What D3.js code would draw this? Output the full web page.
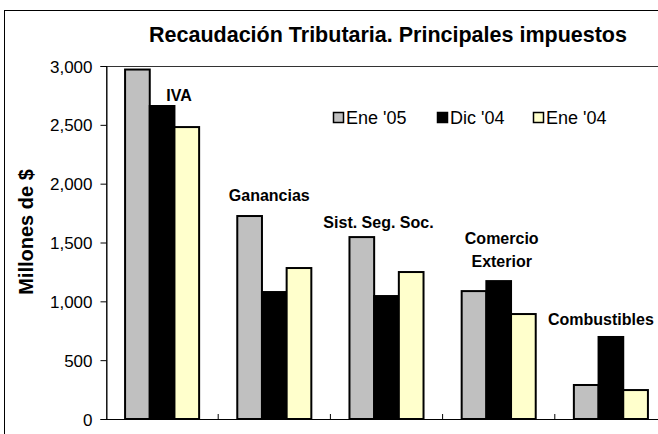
<!DOCTYPE html>
<html>
<head>
<meta charset="utf-8">
<script src="https://cdn.jsdelivr.net/npm/d3@7"></script>
<style>
  body { margin: 0; background: #fff; }
  svg { display: block; font-family: "Liberation Sans", Arial, sans-serif; }
</style>
</head>
<body>
<svg id="chart"></svg>
<script>
const width = 658;
const height = 434;

// data
const categories = ["IVA", "Ganancias", "Sist. Seg. Soc.", "Comercio Exterior", "Combustibles"];
const categoryLines = [["IVA"], ["Ganancias"], ["Sist. Seg. Soc."], ["Comercio", "Exterior"], ["Combustibles"]];
const seriesNames = ["Ene '05", "Dic '04", "Ene '04"];
const ene05 = [2970, 1725, 1546, 1087, 289];
const dic04 = [2660, 1079, 1045, 1172, 697];
const ene04 = [2481, 1283, 1249, 892, 246];
const yTicks = [0, 500, 1000, 1500, 2000, 2500, 3000];

const seriesValues = [ene05, dic04, ene04];
const colors = ["#C0C0C0", "#000000", "#FFFFCC"];

// where the category labels sit: dx from band centre, baseline in data units
const labelPos = {
    "IVA": { dx: 17, v: 2705 },
    "Ganancias": { dx: -5, v: 1855 },
    "Sist. Seg. Soc.": { dx: -8, v: 1625 },
    "Comercio Exterior": { dx: 3, v: 1490 },
    "Combustibles": { dx: -10, v: 795 }
};

const svg = d3.select("#chart").attr("width", width).attr("height", height);

const plot = { left: 106, right: 667, top: 66, bottom: 419 };

const x0 = d3.scaleBand()
    .domain(categories)
    .range([plot.left, plot.right])
    .paddingInner(0.34)
    .paddingOuter(0.17);

const x1 = d3.scaleBand()
    .domain(seriesNames)
    .range([0, x0.bandwidth()]);

const y = d3.scaleLinear()
    .domain([0, 3000])
    .range([plot.bottom, plot.top]);

// chart border
svg.append("rect")
    .attr("x", 4.5).attr("y", 10.5)
    .attr("width", 700).attr("height", 500)
    .attr("fill", "none").attr("stroke", "#000").attr("stroke-width", 1);

// plot area border
svg.append("rect")
    .attr("x", plot.left + 0.5).attr("y", plot.top + 0.5)
    .attr("width", plot.right - plot.left).attr("height", plot.bottom - plot.top)
    .attr("fill", "none").attr("stroke", "#333").attr("stroke-width", 1);

// title
svg.append("text")
    .attr("x", 388).attr("y", 42)
    .attr("text-anchor", "middle")
    .attr("font-size", 21.5)
    .attr("font-weight", "bold")
    .text("Recaudación Tributaria. Principales impuestos");

// y axis
const yAxis = svg.append("g")
    .attr("transform", `translate(${plot.left + 0.5},0)`)
    .call(d3.axisLeft(y).tickValues(yTicks).tickSize(6).tickPadding(8).tickFormat(d3.format(",")));
yAxis.select(".domain").attr("stroke", "#000");
yAxis.selectAll(".tick line").attr("stroke", "#000");
yAxis.selectAll(".tick text")
    .attr("fill", "#000")
    .attr("font-size", 17)
    .attr("font-family", "Liberation Sans, Arial, sans-serif")
    .attr("dy", "0.36em");

// y label
svg.append("text")
    .attr("transform", "translate(33,232) rotate(-90)")
    .attr("text-anchor", "middle")
    .attr("font-size", 20)
    .attr("font-weight", "bold")
    .text("Millones de $");

// bars
const groups = svg.append("g")
    .selectAll("g")
    .data(categories)
    .join("g")
    .attr("transform", d => `translate(${x0(d)},0)`);

groups.selectAll("rect")
    .data((d, i) => seriesNames.map((s, j) => ({ s: s, j: j, v: seriesValues[j][i] })))
    .join("rect")
    .attr("x", d => x1(d.s))
    .attr("y", d => y(d.v))
    .attr("width", x1.bandwidth())
    .attr("height", d => y(0) - y(d.v))
    .attr("fill", d => colors[d.j])
    .attr("stroke", "#000")
    .attr("stroke-width", 2);

// category axis
svg.append("line")
    .attr("x1", plot.left).attr("x2", plot.right)
    .attr("y1", plot.bottom + 0.5).attr("y2", plot.bottom + 0.5)
    .attr("stroke", "#000");
svg.append("g")
    .selectAll("line")
    .data(categories.slice(1))
    .join("line")
    .attr("x1", d => x0(d) - x0.step() * x0.paddingInner() / 2)
    .attr("x2", d => x0(d) - x0.step() * x0.paddingInner() / 2)
    .attr("y1", plot.bottom - 5).attr("y2", plot.bottom)
    .attr("stroke", "#000");

// category labels
categories.forEach((c, i) => {
    const cx = x0(c) + x0.bandwidth() / 2 + labelPos[c].dx;
    categoryLines[i].forEach((line, k) => {
        svg.append("text")
            .attr("x", cx)
            .attr("y", y(labelPos[c].v) + k * 23)
            .attr("text-anchor", "middle")
            .attr("font-size", 16)
            .attr("font-weight", "bold")
            .text(line);
    });
});

// legend
const legendX = [333, 437, 533];
seriesNames.forEach((s, j) => {
    svg.append("rect")
        .attr("x", legendX[j] + 0.5).attr("y", 112.5)
        .attr("width", 10).attr("height", 10)
        .attr("fill", colors[j])
        .attr("stroke", "#000").attr("stroke-width", 1.5);
    svg.append("text")
        .attr("x", legendX[j] + 13).attr("y", 124)
        .attr("font-size", 18)
        .text(s);
});
</script>
</body>
</html>
